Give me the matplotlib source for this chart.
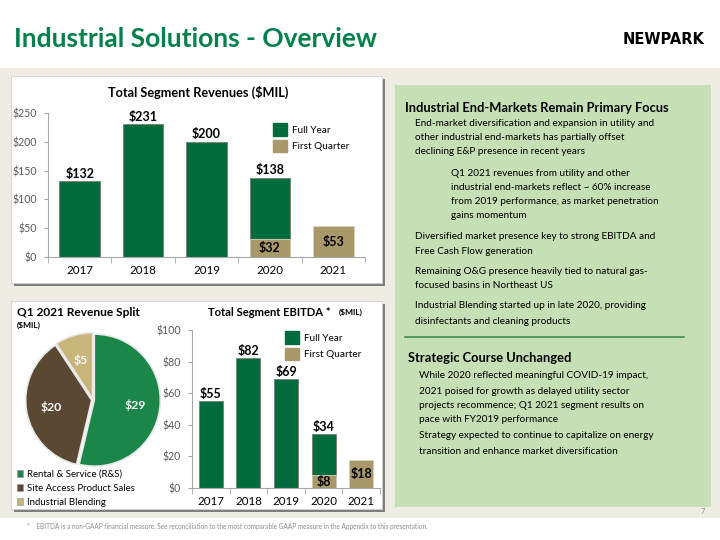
import numpy as np
import matplotlib
matplotlib.use('Agg')
import matplotlib.pyplot as plt
from matplotlib.patches import Rectangle, Patch

plt.rcParams['font.family'] = ['Lato', 'DejaVu Sans']

# data
years = ['2017', '2018', '2019', '2020', '2021']
rev_full = [132, 231, 200, 138, np.nan]
rev_q1 = [np.nan, np.nan, np.nan, 32, 53]
ebitda_full = [55, 82, 69, 34, np.nan]
ebitda_q1 = [np.nan, np.nan, np.nan, 8, 18]
split_labels = ['Rental & Service (R&S)', 'Site Access Product Sales', 'Industrial Blending']
split_values = [29, 20, 5]
rev_ticks = [0, 50, 100, 150, 200, 250]
ebitda_ticks = [0, 20, 40, 60, 80, 100]

GREEN = '#006b3c'
TAN = '#a8986a'
PIE_COLORS = ['#1a8647', '#5a4832', '#c7b57a']
BEIGE = '#eeece3'
BOX_GREEN = '#c6e0b5'

W, H = 720, 540


def fx(x):
    return x / W


def fy(y):
    return 1 - y / H


def box(fig, x0, y0, x1, y1, **kw):
    fig.patches.append(Rectangle((fx(x0), fy(y1)), fx(x1 - x0), (y1 - y0) / H,
                                 transform=fig.transFigure, zorder=-5, **kw))


fig = plt.figure(figsize=(7.2, 5.4), dpi=100)
fig.patch.set_facecolor('white')

# backgrounds
box(fig, 0, 68, 720, 518, facecolor=BEIGE, edgecolor='none')
for (x0, y0, x1, y1) in [(11, 76, 382, 283), (11, 301, 382, 509)]:
    box(fig, x0 + 3, y0 + 3, x1 + 3, y1 + 3, facecolor='#7f7f7f', edgecolor='none')
    box(fig, x0, y0, x1, y1, facecolor='white', edgecolor='#d0d0d0', lw=0.6)
box(fig, 395, 85, 711, 507, facecolor=BOX_GREEN, edgecolor='none')
fig.lines.append(plt.Line2D([fx(405), fx(684)], [fy(337), fy(337)], transform=fig.transFigure,
                            color='#3f8c55', lw=1.2, zorder=-4))

# header
fig.text(fx(14), fy(39), 'Industrial Solutions - Overview', color='#00804a', fontsize=19,
         fontweight='bold', va='center', ha='left')
fig.text(fx(705), fy(39), 'NEWPARK', color='black', fontsize=10.5, fontweight='heavy',
         va='center', ha='right', family='DejaVu Sans')
fig.text(fx(27), fy(526), '*    EBITDA is a non-GAAP financial measure. See reconciliation to the most comparable '
         'GAAP measure in the Appendix to this presentation.', color='#8c8c8c', fontsize=4.7,
         va='center', ha='left')
fig.text(fx(705), fy(512), '7', color='#8c8c8c', fontsize=5.5, va='center', ha='right')


def bar_panel(ax, full, q1, ticks, lab_size):
    x = np.arange(len(years))
    b1 = ax.bar(x, full, width=0.64, color=GREEN, edgecolor='#7d7d6d', lw=0.6, zorder=2)
    b2 = ax.bar(x, q1, width=0.64, color=TAN, edgecolor='#d9d3c0', lw=0.6, zorder=3)
    ax.bar_label(b1, labels=['' if np.isnan(v) else f'${v:.0f}' for v in full], padding=1,
                 fontsize=lab_size, fontweight='bold')
    ax.bar_label(b2, labels=['' if np.isnan(v) else f'${v:.0f}' for v in q1], label_type='center',
                 fontsize=lab_size, fontweight='bold')
    ax.set_xlim(-0.5, len(years) - 0.5)
    ax.set_ylim(ticks[0], ticks[-1])
    ax.set_xticks(x)
    ax.set_xticklabels(years)
    ax.set_xticks(np.arange(-0.5, len(years)), minor=True)
    ax.tick_params(axis='x', which='major', length=0, labelsize=8.3, pad=6)
    ax.tick_params(axis='x', which='minor', length=4, color='#a6a6a6', direction='out')
    ax.set_yticks(ticks)
    ax.set_yticklabels([f'${t}' for t in ticks])
    ax.tick_params(axis='y', length=3, color='#a6a6a6', labelsize=7.6, labelcolor='#595959', pad=5)
    for s in ['top', 'right']:
        ax.spines[s].set_visible(False)
    for s in ['left', 'bottom']:
        ax.spines[s].set_color('#a6a6a6')
    ax.patch.set_alpha(0)


# revenue chart
ax1 = fig.add_axes([fx(48), fy(257), fx(365 - 48), (257 - 113) / H])
bar_panel(ax1, rev_full, rev_q1, rev_ticks, 9)
fig.text(fx(198), fy(92), 'Total Segment Revenues ($MIL)', fontsize=9.2, fontweight='bold',
         ha='center', va='center')
fig.legend(handles=[Patch(color=GREEN), Patch(color=TAN)], labels=['Full Year', 'First Quarter'],
           loc='upper left', bbox_to_anchor=(fx(264), fy(114)), frameon=False, fontsize=7.2,
           handlelength=1.35, handleheight=1.55, handletextpad=0.6, labelspacing=0.4)

# ebitda chart
ax2 = fig.add_axes([fx(192), fy(488), fx(380 - 192), (488 - 330) / H])
bar_panel(ax2, ebitda_full, ebitda_q1, ebitda_ticks, 9)
fig.text(fx(208), fy(312), 'Total Segment EBITDA *', fontsize=8.1, fontweight='bold',
         ha='left', va='center')
fig.text(fx(339), fy(312.5), '($MIL)', fontsize=6.0, fontweight='bold', ha='left', va='center')
fig.legend(handles=[Patch(color=GREEN), Patch(color=TAN)], labels=['Full Year', 'First Quarter'],
           loc='upper left', bbox_to_anchor=(fx(276), fy(322)), frameon=False, fontsize=7.2,
           handlelength=1.35, handleheight=1.55, handletextpad=0.6, labelspacing=0.4)

# pie
ax3 = fig.add_axes([fx(25), fy(468), fx(136), 136 / H])
total = sum(split_values)
wedges, _, autotexts = ax3.pie(split_values, colors=PIE_COLORS, startangle=90, counterclock=False,
                               explode=[0.02, 0.02, 0.02], pctdistance=0.62,
                               autopct=lambda p: f'${p * total / 100:.0f}',
                               wedgeprops=dict(edgecolor='#e8e8e8', linewidth=1.2))
for t in autotexts:
    t.set_color('white')
    t.set_fontweight('bold')
    t.set_fontsize(8.8)
ax3.set_xlim(-1.03, 1.03)
ax3.set_ylim(-1.03, 1.03)
ax3.set_aspect('equal')
fig.text(fx(17), fy(312), 'Q1 2021 Revenue Split', fontsize=8.6, fontweight='bold',
         ha='left', va='center')
fig.text(fx(17), fy(325), '($MIL)', fontsize=6.0, fontweight='bold', ha='left', va='center')
fig.legend(handles=[Patch(facecolor=c, edgecolor='#9a9a9a', lw=0.5) for c in PIE_COLORS],
           labels=split_labels, loc='upper left', bbox_to_anchor=(fx(8), fy(461)),
           frameon=False, fontsize=6.9, handlelength=0.65, handleheight=0.75, handletextpad=0.4,
           labelspacing=0.55)

# right text box
BODY = 7.2
fig.text(fx(405), fy(108), 'Industrial End-Markets Remain Primary Focus', fontsize=9.3,
         fontweight='bold', ha='left', va='center')
body1 = [
    (415, 123, 'End-market diversification and expansion in utility and'),
    (415, 138, 'other industrial end-markets has partially offset'),
    (415, 152, 'declining E&P presence in recent years'),
    (451, 173, 'Q1 2021 revenues from utility and other'),
    (451, 187, 'industrial end-markets reflect ~ 60% increase'),
    (451, 202, 'from 2019 performance, as market penetration'),
    (451, 216, 'gains momentum'),
    (415, 236, 'Diversified market presence key to strong EBITDA and'),
    (415, 251, 'Free Cash Flow generation'),
    (415, 271, 'Remaining O&G presence heavily tied to natural gas-'),
    (415, 286, 'focused basins in Northeast US'),
    (415, 306, 'Industrial Blending started up in late 2020, providing'),
    (415, 321, 'disinfectants and cleaning products'),
]
for x, y, s in body1:
    fig.text(fx(x), fy(y), s, fontsize=BODY, ha='left', va='center')

fig.text(fx(408), fy(358), 'Strategic Course Unchanged', fontsize=9.3, fontweight='bold',
         ha='left', va='center')
body2 = [
    (419, 376, 'While 2020 reflected meaningful COVID-19 impact,'),
    (419, 391, '2021 poised for growth as delayed utility sector'),
    (419, 406, 'projects recommence; Q1 2021 segment results on'),
    (419, 420, 'pace with FY2019 performance'),
    (419, 436, 'Strategy expected to continue to capitalize on energy'),
    (419, 451, 'transition and enhance market diversification'),
]
for x, y, s in body2:
    fig.text(fx(x), fy(y), s, fontsize=BODY, ha='left', va='center')

fig.savefig('out.png', dpi=100)
